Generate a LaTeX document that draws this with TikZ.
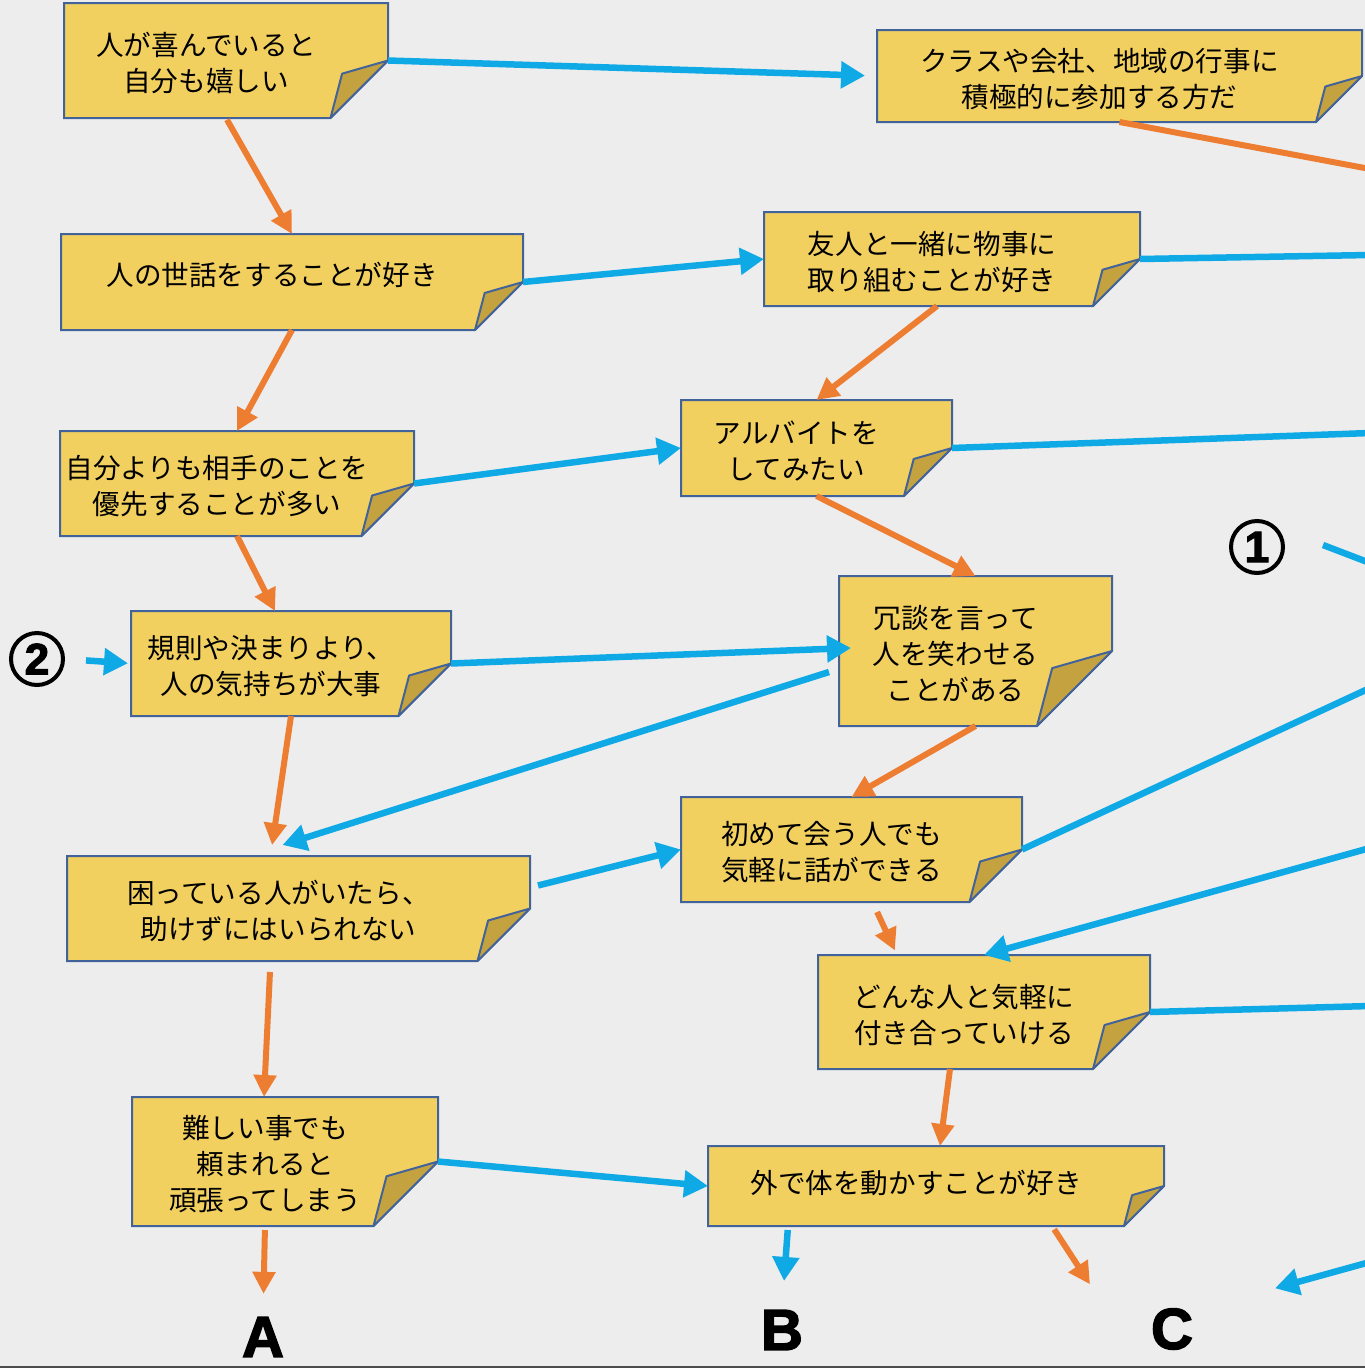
\documentclass[tikz,border=0pt]{standalone}
\usepackage{fontspec}
\setmainfont{Noto Sans CJK JP}
\newfontfamily\letterfont[FakeBold=2.5]{Liberation Sans Bold}
\usetikzlibrary{arrows.meta,calc}

\definecolor{paper}{HTML}{EDEDED}
\definecolor{skyblue}{HTML}{0FA9E6}
\definecolor{orangeline}{HTML}{ED7D31}
\definecolor{noteedge}{HTML}{41639A}
\definecolor{goldA}{HTML}{F2D060}
\definecolor{goldB}{HTML}{D9B244}
\definecolor{foldgold}{HTML}{C4A23F}

\pgfdeclarelayer{paperlayer}
\pgfdeclarelayer{notelayer}
\pgfsetlayers{paperlayer,notelayer,main}

% note text, pushed a little to the left of the folded corner and a little down
\newcommand{\notetext}[2][-6pt]{\raisebox{#1}[\height][\depth]{\begin{tabular}{@{}c@{}}#2\end{tabular}}\kern40pt}

\tikzset{
  note/.style={inner sep=0pt, outer sep=0pt, font=\fontsize{27.6}{36}\selectfont},
  notepaper/.style={draw=noteedge, line width=2pt, left color=goldA, middle color=goldB, right color=goldA},
  notefold/.style={draw=noteedge, line width=2pt, fill=foldgold, line join=round},
  bluearrow/.style={draw=skyblue, line width=6.5pt, -{Triangle[length=24pt,width=26pt]}},
  bluelink/.style={draw=skyblue, line width=6.5pt},
  orangearrow/.style={draw=orangeline, line width=6pt, -{Triangle[length=22pt,width=22pt]}},
  orangelink/.style={draw=orangeline, line width=6pt},
  endletter/.style={inner sep=0pt, font=\letterfont\fontsize{58}{58}\selectfont},
  roundnum/.style={circle, draw, line width=4pt, minimum size=52pt, inner sep=0pt,
    font=\letterfont\fontsize{44}{44}\selectfont},
}

\begin{document}
\begin{tikzpicture}[x=1pt,y=-1pt]
    \useasboundingbox (0,0) rectangle (1365,1368);
    \begin{pgfonlayer}{paperlayer}
        \fill[paper] (0,0) rectangle (1365,1368);
        \draw[gray!60!black, line width=3pt] (0,1367) -- (1365,1367);
    \end{pgfonlayer}

    % Notes, left column
    \node[note, minimum width=324pt, minimum height=115pt] (b1) at (226,60.5) {\notetext{人が喜んでいると\\自分も嬉しい}};
    \node[note, minimum width=462pt, minimum height=96pt] (b3) at (292,282) {\notetext[4pt]{人の世話をすることが好き}};
    \node[note, minimum width=354pt, minimum height=105pt] (b6) at (237,483.5) {\notetext{自分よりも相手のことを\\優先することが多い}};
    \node[note, minimum width=320pt, minimum height=105pt] (b8) at (291,663.5) {\notetext{規則や決まりより、\\人の気持ちが大事}};
    \node[note, minimum width=463pt, minimum height=105pt] (b10) at (298.5,908.5) {\notetext{困っている人がいたら、\\助けずにはいられない}};
    \node[note, minimum width=306pt, minimum height=129pt] (b12) at (285,1161.5) {\notetext{難しい事でも\\頼まれると\\頑張ってしまう}};

    % Notes, right column
    \node[note, minimum width=485pt, minimum height=92pt] (b2) at (1119.5,76) {\notetext{クラスや会社、地域の行事に\\積極的に参加する方だ}};
    \node[note, minimum width=376pt, minimum height=94pt] (b4) at (952,259) {\notetext{友人と一緒に物事に\\取り組むことが好き}};
    \node[note, minimum width=271pt, minimum height=96pt] (b5) at (816.5,448) {\notetext{アルバイトを\\してみたい}};
    \node[note, minimum width=273pt, minimum height=150pt] (b7) at (975.5,651) {\notetext{冗談を言って\\人を笑わせる\\ことがある}};
    \node[note, minimum width=341pt, minimum height=105pt] (b9) at (851.5,849.5) {\notetext{初めて会う人でも\\気軽に話ができる}};
    \node[note, minimum width=332pt, minimum height=114pt] (b11) at (984,1012) {\notetext{どんな人と気軽に\\付き合っていける}};
    \node[note, minimum width=456pt, minimum height=80pt] (b13) at (936,1186) {\notetext[0pt]{外で体を動かすことが好き}};

    % Note paper with folded corner
    \begin{pgfonlayer}{notelayer}
        \foreach \n in {b1,b2,b3,b4,b5,b6,b7,b8,b9,b10,b11,b12,b13} {
            \path[notepaper] (\n.north west) -- (\n.north east) -- (\n.east)
                -- ($(\n.south east)!1!90:(\n.east)$) -- (\n.south west) -- cycle;
            \path[notefold] (\n.east) -- ($(\n.east)!0.83!-74:(\n.south east)$)
                -- ($(\n.south east)!1!90:(\n.east)$) -- cycle;
        }
    \end{pgfonlayer}

    % Entry marks and results
    \node[roundnum] (c1) at (1257,547) {1};
    \node[roundnum] (c2) at (37,659) {2};
    \node[endletter] (lA) at (263,1337) {A};
    \node[endletter] (lB) at (782,1330) {B};
    \node[endletter] (lC) at (1172,1329) {C};

    % Ends running off the right edge
    \coordinate (o1) at (1370,255);
    \coordinate (o2) at (1370,433);
    \coordinate (o3) at (1370,688);
    \coordinate (o4) at (1370,1006);
    \coordinate (o5) at (1370,563);
    \coordinate (o6) at (1370,169);
    \coordinate (i1) at (1370,848);
    \coordinate (i2) at (1370,1262);

    % Blue connectors
    \draw[bluearrow, shorten >=12pt] (b1.east) -- (b2.west);
    \draw[bluearrow] (b3.east) -- (b4.west);
    \draw[bluelink] (b4.east) -- (o1);
    \draw[bluearrow] (b6.east) -- (b5.west);
    \draw[bluelink] (b5.east) -- (o2);
    \draw[bluearrow] (b8.east) -- ([xshift=12pt,yshift=3pt]b7.west);
    \draw[bluearrow] ([xshift=-10pt,yshift=-21pt]b7.west) -- ([xshift=-16pt,yshift=11pt]b10.north);
    \draw[bluearrow, shorten <=21pt, shorten >=3pt] (c2.east) -- (b8.west);
    \draw[bluearrow] ([xshift=8pt,yshift=23pt]b10.east) -- (b9.west);
    \draw[bluelink] (b9.east) -- (o3);
    \draw[bluearrow] (i1) -- (b11.north);
    \draw[bluelink] (b11.east) -- (o4);
    \draw[bluearrow] (b12.east) -- (b13.west);
    \draw[bluearrow, shorten <=4pt, shorten >=29pt] ([xshift=-148pt]b13.south) -- (lB.north);
    \draw[bluearrow] (i2) -- ([xshift=103pt,yshift=20pt]lC.north);
    \draw[bluelink] ([xshift=38pt,yshift=2pt]c1.east) -- (o5);

    % Orange connectors
    \draw[orangearrow, shorten <=2pt] (b1.south) -- (b3.north);
    \draw[orangelink] (b2.south) -- (o6);
    \draw[orangearrow] (b3.south) -- (b6.north);
    \draw[orangearrow] ([xshift=-15pt]b4.south) -- (b5.north);
    \draw[orangearrow] (b5.south) -- (b7.north);
    \draw[orangearrow] (b6.south) -- ([xshift=-16pt]b8.north);
    \draw[orangearrow] (b7.south) -- (b9.north);
    \draw[orangearrow, shorten >=11pt] (b8.south) -- ([xshift=-28pt]b10.north);
    \draw[orangearrow, shorten <=11pt, shorten >=5pt] ([xshift=21pt]b9.south) -- ([xshift=-87pt]b11.north);
    \draw[orangearrow, shorten <=11pt] ([xshift=-28pt]b10.south) -- ([xshift=-21pt]b12.north);
    \draw[orangearrow] ([xshift=-34pt]b11.south) -- ([xshift=4pt]b13.north);
    \draw[orangearrow, shorten <=4pt, shorten >=23pt] ([xshift=-20pt]b12.south) -- (lA.north);
    \draw[orangearrow, shorten <=4pt] ([xshift=116pt]b13.south) -- ([xshift=-82pt,yshift=24pt]lC.north);
\end{tikzpicture}
\end{document}
